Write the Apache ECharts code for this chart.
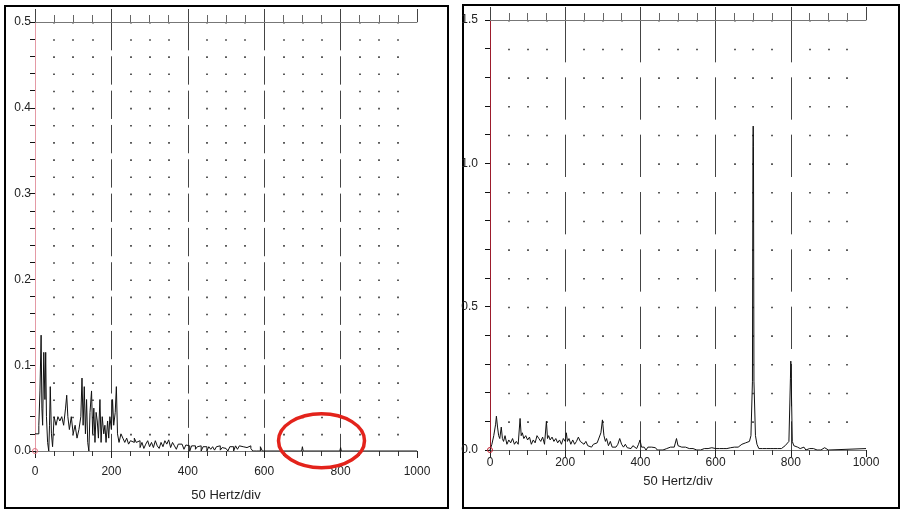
<!DOCTYPE html>
<html><head><meta charset="utf-8">
<script src="https://cdn.jsdelivr.net/npm/echarts@6/dist/echarts.min.js"></script>
<style>html,body{margin:0;padding:0;background:#fff}#c{width:900px;height:510px}</style>
</head><body><div id="c"></div>
<script>
// ---- data ----
const freqLeft = [
  0,5,10,13,16,18,20,23,26,28,
  30,33,36,38,40,43,46,50,55,60,
  65,70,75,80,83,86,90,95,100,105,
  110,115,120,123,126,129,132,135,138,141,
  144,148,151,154,157,160,163,166,170,173,
  176,180,183,186,190,193,196,200,203,206,
  210,213,216,220,225,230,235,240,245,250,
  255,260,265,270,275,280,285,290,295,300,
  305,310,315,320,325,330,335,340,345,350,
  355,360,365,370,375,380,385,390,395,400,
  405,410,415,420,425,430,435,440,445,450,
  455,460,465,470,475,480,485,490,495,500,
  505,510,515,520,525,530,535,540,545,550,
  555,560,565,570,575,580,585,590,595,600,
  698,700,702,798,800,802,1000
];
const ampLeft = [
  0.02,0.02,0.03,0.07,0.135,0.05,0.03,0.115,0.06,0.115,
  0.04,0.01,0.0,0.03,0.075,0.02,0.005,0.04,0.03,0.04,
  0.035,0.04,0.03,0.05,0.065,0.04,0.025,0.04,0.02,0.03,
  0.015,0.025,0.04,0.085,0.03,0.075,0.02,0.06,0.01,0.0,
  0.045,0.07,0.02,0.05,0.01,0.045,0.035,0.015,0.06,0.01,
  0.04,0.02,0.03,0.01,0.035,0.015,0.04,0.025,0.06,0.03,
  0.045,0.075,0.02,0.01,0.02,0.015,0.01,0.015,0.008,0.012,
  0.01,0.015,0.01,0.012,0.004,0.01,0.003,0.008,0.012,0.005,
  0.01,0.004,0.012,0.006,0.003,0.01,0.005,0.012,0.008,0.013,
  0.004,0.01,0.006,0.002,0.008,0.008,0.008,0.002,0.007,0.006,
  0.0,0.006,0.006,0.002,0.005,0.006,0.0,0.005,0.005,0.0,
  0.005,0.002,0.005,0.001,0.005,0.006,0.001,0.004,0.003,0.005,
  0.0,0.005,0.005,0.0,0.006,0.002,0.006,0.005,0.003,0.004,
  0.006,0.006,0.003,0.0,0.0,0.0,0.0,0.005,0.0,0.0,
  0.0,0.005,0.0,0.0,0.004,0.0,0.0
];
const freqRight = [
  0,5,10,15,17,20,23,26,30,33,
  36,40,45,50,55,60,65,70,75,80,
  83,86,90,95,100,105,110,115,120,125,
  130,135,140,145,150,153,156,160,165,170,
  175,180,185,190,195,200,203,206,210,215,
  220,225,230,235,240,245,250,255,260,265,
  270,275,280,285,290,295,299,303,307,310,
  315,320,325,330,335,340,345,350,355,360,
  365,370,375,380,385,390,395,399,403,410,
  415,420,425,430,435,440,445,450,460,470,
  475,480,485,490,496,500,505,510,515,520,
  525,530,535,540,545,550,555,560,570,575,
  580,585,590,595,600,605,610,615,620,625,
  630,635,640,645,650,655,660,665,670,675,
  680,685,690,694,698,699.3,700,700.7,702,706,
  710,715,720,725,730,735,740,745,750,755,
  760,765,770,775,780,785,790,795,799,800,
  801,804,808,812,818,825,835,840,850,855,
  860,870,880,890,895,900,1000
];
const ampRight = [
  0.0,0.02,0.05,0.09,0.118,0.08,0.05,0.04,0.08,0.04,
  0.03,0.05,0.02,0.035,0.025,0.04,0.02,0.03,0.02,0.11,
  0.05,0.06,0.04,0.05,0.035,0.045,0.02,0.035,0.025,0.05,
  0.04,0.03,0.045,0.02,0.10,0.04,0.05,0.035,0.045,0.03,
  0.04,0.025,0.035,0.02,0.04,0.03,0.06,0.03,0.04,0.02,
  0.035,0.02,0.03,0.045,0.03,0.035,0.02,0.03,0.015,0.02,
  0.01,0.02,0.015,0.025,0.02,0.06,0.105,0.05,0.03,0.04,
  0.015,0.03,0.01,0.015,0.01,0.02,0.04,0.02,0.01,0.02,
  0.008,0.01,0.005,0.015,0.01,0.005,0.02,0.035,0.01,0.01,
  0.0,0.01,0.005,0.01,0.005,0.008,0.0,0.0,0.0,0.005,
  0.01,0.01,0.005,0.01,0.04,0.015,0.015,0.01,0.005,0.01,
  0.01,0.005,0.01,0.005,0.01,0.0,0.005,0.0,0.005,0.008,
  0.005,0.01,0.008,0.01,0.005,0.008,0.005,0.01,0.005,0.008,
  0.005,0.01,0.008,0.005,0.01,0.008,0.01,0.015,0.02,0.015,
  0.025,0.02,0.03,0.05,0.24,1.06,1.13,1.06,0.24,0.05,
  0.02,0.005,0.01,0.005,0.01,0.005,0.008,0.005,0.01,0.005,
  0.008,0.005,0.01,0.005,0.01,0.015,0.01,0.03,0.25,0.31,
  0.25,0.03,0.015,0.01,0.01,0.005,0.01,0.0,0.005,0.0,
  0.005,0.0,0.0,0.008,0.005,0.0,0.005
];
const xTickLabels = ['0', '200', '400', '600', '800', '1000'];
const yTickLabelsLeft = ['0.0', '0.1', '0.2', '0.3', '0.4', '0.5'];
const yTickLabelsRight = ['0.0', '0.5', '1.0', '1.5'];
const xAxisName = '50 Hertz/div';
const annotationCenter = [750, 0.012];

// ---- chart ----
const FONT = '"Liberation Sans", Arial, Helvetica, sans-serif';
const chart = echarts.init(document.getElementById('c'), null, {renderer: 'canvas'});
const X_INTERVAL = 200;

function bottomX(gi, rowPx, dash, labelMargin, nameGap) {
  return {
    type: 'value', gridIndex: gi, position: 'bottom',
    min: 0, max: parseFloat(xTickLabels[xTickLabels.length - 1]), interval: X_INTERVAL,
    name: xAxisName, nameLocation: 'middle', nameGap: nameGap,
    nameTextStyle: {fontSize: 13, color: '#222', fontFamily: FONT},
    axisLine: {show: true, onZero: false, lineStyle: {color: '#777', width: 1}},
    axisTick: {show: true, length: 7, lineStyle: {color: '#222', width: 1}},
    minorTick: {show: true, splitNumber: 4, length: 5, lineStyle: {color: '#333', width: 1}},
    axisLabel: {fontSize: 12, color: '#222', fontFamily: FONT, margin: labelMargin,
      formatter: v => xTickLabels[Math.round(v / X_INTERVAL)]},
    splitLine: {show: true, showMinLine: false, showMaxLine: false,
      lineStyle: {color: '#444', width: 1, type: dash}},
    minorSplitLine: {show: true, lineStyle: {color: '#333', width: 1.6, type: [1.6, rowPx - 1.6]}}
  };
}
function topX(gi) {
  return {
    type: 'value', gridIndex: gi, position: 'top',
    min: 0, max: parseFloat(xTickLabels[xTickLabels.length - 1]), interval: X_INTERVAL,
    axisLine: {show: true, onZero: false, lineStyle: {color: '#777', width: 1}},
    axisTick: {show: true, length: 13, lineStyle: {color: '#444', width: 1}},
    minorTick: {show: true, splitNumber: 4, length: 7, lineStyle: {color: '#666', width: 1}},
    axisLabel: {show: false},
    splitLine: {show: false}
  };
}
function leftY(gi, labels, interval, lineColor, margin) {
  return {
    type: 'value', gridIndex: gi,
    min: 0, max: parseFloat(labels[labels.length - 1]), interval: interval,
    axisLine: {show: true, lineStyle: {color: lineColor, width: 1}},
    axisTick: {show: true, length: 5, lineStyle: {color: '#111'}},
    minorTick: {show: true, splitNumber: 5, length: 5, lineStyle: {color: '#111'}},
    axisLabel: {fontSize: 12, color: '#222', fontFamily: FONT, margin: margin,
      formatter: v => labels[Math.round(v / interval)]},
    splitLine: {show: false}
  };
}

const leftRow = 429 / 25;
const rightRow = 430 / 15;

chart.setOption({
  animation: false,
  backgroundColor: '#fff',
  grid: [
    {left: 35, top: 22, width: 382, height: 429},
    {left: 490, top: 20, width: 376, height: 430}
  ],
  xAxis: [
    bottomX(0, leftRow, [2 * leftRow - 6, 6], 15, 38),
    topX(0),
    bottomX(1, rightRow, [2 * rightRow - 15, 15], 7, 25),
    topX(1)
  ],
  yAxis: [
    leftY(0, yTickLabelsLeft, 0.1, '#e49aa5', 4),
    leftY(1, yTickLabelsRight, 0.5, '#9c1c2c', 12)
  ],
  series: [
    {type: 'line', xAxisIndex: 0, yAxisIndex: 0, step: 'end', showSymbol: false, silent: true,
      data: freqLeft.map((f, i) => [f, ampLeft[i]]),
      lineStyle: {color: '#111', width: 1}},
    {type: 'line', xAxisIndex: 2, yAxisIndex: 1, showSymbol: false, silent: true,
      data: freqRight.map((f, i) => [f, ampRight[i]]),
      lineStyle: {color: '#111', width: 1}}
  ]
});

const c = chart.convertToPixel({xAxisIndex: 0, yAxisIndex: 0}, annotationCenter);
const o0 = chart.convertToPixel({xAxisIndex: 0, yAxisIndex: 0}, [0, 0]);
const o1 = chart.convertToPixel({xAxisIndex: 2, yAxisIndex: 1}, [0, 0]);
chart.setOption({
  graphic: [
    {type: 'rect', shape: {x: 5, y: 6, width: 443, height: 502},
      style: {fill: 'none', stroke: '#000', lineWidth: 2}, silent: true},
    {type: 'rect', shape: {x: 463, y: 5, width: 436, height: 503},
      style: {fill: 'none', stroke: '#000', lineWidth: 2}, silent: true},
    {type: 'ellipse', shape: {cx: c[0], cy: c[1], rx: 43, ry: 27},
      style: {fill: 'none', stroke: '#e3231b', lineWidth: 3.5}, silent: true, z: 100},
    {type: 'circle', shape: {cx: o0[0], cy: o0[1], r: 2.5},
      style: {fill: 'none', stroke: '#e07080', lineWidth: 1}, silent: true, z: 100},
    {type: 'circle', shape: {cx: o1[0], cy: o1[1], r: 2.5},
      style: {fill: 'none', stroke: '#c02030', lineWidth: 1}, silent: true, z: 100}
  ]
});
</script>
</body></html>
